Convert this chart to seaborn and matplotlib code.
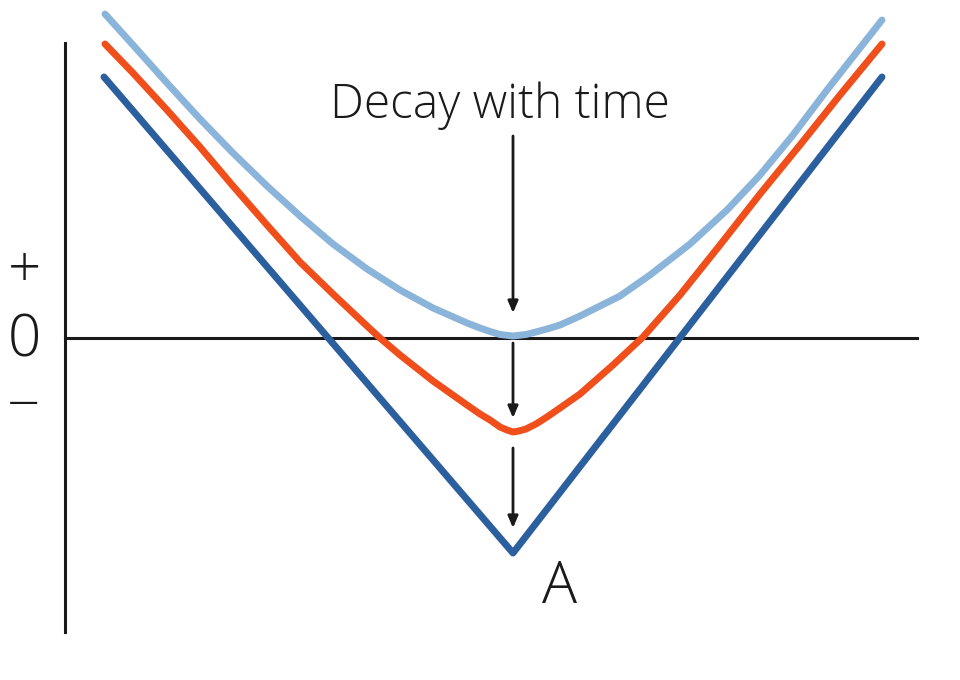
"""
V-shaped response curve and its decay with time
"""
import matplotlib
matplotlib.use("Agg")
import matplotlib.pyplot as plt
import seaborn as sns

# x, y in chart units (0 = vertex / zero line)
x_sharp = [-4.09, 0.0, 3.69]
y_sharp = [2.61, -2.15, 2.61]

x_mid = [-4.08, -3.80, -3.46, -3.13, -2.80, -2.46, -2.13, -1.80, -1.46, -1.33,
         -1.13, -0.80, -0.46, -0.33, -0.23, -0.13, -0.06, 0.0, 0.06, 0.13,
         0.23, 0.34, 0.47, 0.67, 1.00, 1.30, 1.67, 2.07, 2.47, 2.87,
         3.27, 3.69]
y_mid = [2.94, 2.65, 2.28, 1.91, 1.52, 1.13, 0.76, 0.44, 0.12, 0.00,
         -0.17, -0.43, -0.67, -0.76, -0.82, -0.89, -0.92, -0.94, -0.93, -0.91,
         -0.86, -0.79, -0.70, -0.56, -0.27, 0.01, 0.43, 0.93, 1.44, 1.93,
         2.43, 2.94]

x_late = [-4.08, -3.80, -3.46, -3.13, -2.80, -2.46, -2.13, -1.80, -1.46, -1.13,
          -0.80, -0.46, -0.33, -0.23, -0.13, 0.0, 0.13, 0.23, 0.34, 0.47,
          0.67, 1.07, 1.37, 1.77, 2.14, 2.47, 2.80, 3.14, 3.47, 3.69]
y_late = [3.24, 2.93, 2.55, 2.19, 1.85, 1.52, 1.22, 0.94, 0.69, 0.48,
          0.30, 0.15, 0.10, 0.065, 0.035, 0.02, 0.035, 0.06, 0.09, 0.13,
          0.22, 0.42, 0.63, 0.94, 1.28, 1.63, 2.03, 2.48, 2.90, 3.18]

sign_labels = ["+", "0", "\u2212"]
sign_y = [0.66, -0.03, -0.69]

sns.set_theme(style="white")
plt.rcParams["font.family"] = ["Open Sans", "DejaVu Sans"]

fig = plt.figure(figsize=(9.6, 6.8), dpi=100)
ax = fig.add_axes([0, 0, 1, 1])
ax.set_xlim(-5.13, 4.47)
ax.set_ylim(-3.42, 3.38)

# axes drawn as spines through the origin
for side in ["top", "right"]:
    ax.spines[side].set_visible(False)
ax.spines["left"].set_position(("data", -4.48))
ax.spines["left"].set_bounds(-2.94, 2.95)
ax.spines["bottom"].set_position(("data", 0))
ax.spines["bottom"].set_bounds(-4.48, 4.04)
for side in ["left", "bottom"]:
    ax.spines[side].set_color("#1a1a1a")
    ax.spines[side].set_linewidth(2.2)
ax.set_xticks([])
ax.set_yticks([])

line_kw = dict(linewidth=5, sort=False, zorder=3, solid_capstyle="round",
               solid_joinstyle="round", ax=ax)
sns.lineplot(x=x_sharp, y=y_sharp, color="#2c5f9e", **line_kw)
sns.lineplot(x=x_mid, y=y_mid, color="#f04e1a", **line_kw)
sns.lineplot(x=x_late, y=y_late, color="#8bb4da", **line_kw)

# arrows
arrow_kw = dict(arrowstyle="-|>,head_length=0.7,head_width=0.3",
                color="#1a1a1a", lw=2, shrinkA=0, shrinkB=0, mutation_scale=10)
for y0, y1 in [(2.02, 0.25), (-0.05, -0.80), (-1.10, -1.90)]:
    ax.annotate("", xy=(0, y1), xytext=(0, y0), arrowprops=arrow_kw)

ax.text(-0.13, 2.20, "Decay with time", fontsize=34.5, fontweight="light",
        ha="center", va="baseline", color="#1a1a1a")
ax.text(0.47, -2.65, "A", fontsize=42, fontweight="light",
        ha="center", va="baseline", color="#1a1a1a")
for lab, yy in zip(sign_labels, sign_y):
    ax.text(-4.89, yy, lab, fontsize=42, fontweight="light",
            ha="center", va="center", color="#1a1a1a")

fig.savefig("out.png", dpi=100)
